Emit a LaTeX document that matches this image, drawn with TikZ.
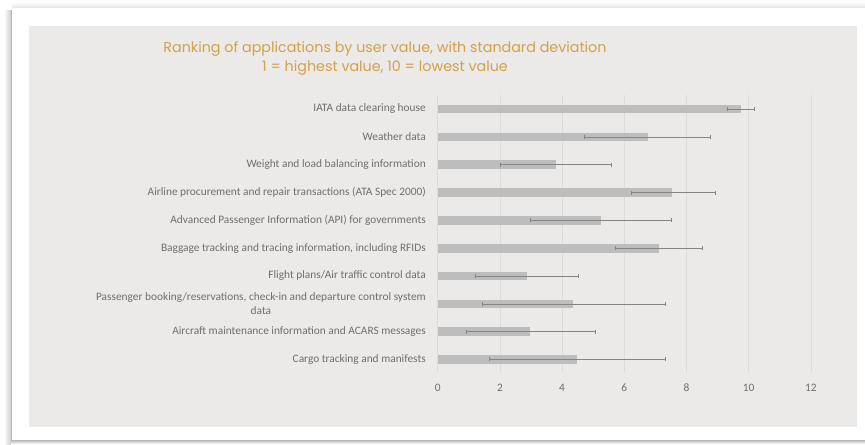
\documentclass[tikz,border=0pt]{standalone}
\usepackage{fontspec}
\usepackage{tikz}
\usetikzlibrary{positioning, arrows.meta}
\newfontfamily\titlefont{Poppins}
\newfontfamily\labelfont{Carlito}
\definecolor{panelgray}{HTML}{EBEAE8}
\definecolor{gridgray}{HTML}{DCDBD9}
\definecolor{bargray}{HTML}{BDBDBD}
\definecolor{errgray}{HTML}{858585}
\definecolor{labelgray}{HTML}{6E6E6E}
\definecolor{titlegold}{HTML}{D4A04A}
\tikzstyle{catlabel} = [anchor=east, text=labelgray, align=center, inner sep=0pt, font=\labelfont\fontsize{9.7}{11.8}\selectfont]
\tikzstyle{ticklabel} = [text=labelgray, inner sep=0pt, font=\labelfont\fontsize{9.7}{11}\selectfont]
\tikzstyle{titletext} = [text=titlegold, align=center, inner sep=0pt, font=\titlefont\fontsize{12.2}{15.5}\selectfont]
\tikzstyle{bar} = [fill=bargray, draw=none]
\tikzstyle{errbar} = [draw=errgray, line width=0.8pt, {Bar[width=1.2mm]}-{Bar[width=1.2mm]}]
\tikzstyle{grid} = [draw=gridgray, line width=0.6pt]

\begin{document}
\begin{tikzpicture}[x=0.03cm, y=-0.03cm]
	\useasboundingbox (0,0) rectangle (865,444);
	% frame and shadow
	\fill[white] (0,0) rectangle (865,444);
	\fill[left color=white, right color=black!20] (4,10) rectangle (11,444);
	\draw[black!28, line width=1.2pt] (11.5,10) -- (11.5,444);
	\fill[top color=white, bottom color=black!9] (12,2) rectangle (865,7);
	\fill[top color=black!25, bottom color=white] (11,440.5) rectangle (865,444);
	\fill[panelgray] (29,26) rectangle (857,427);
	% title
	\node (title) [titletext] at (385,58.5) {Ranking of applications by user value, with standard deviation\\1 = highest value, 10 = lowest value};
	% category labels
	\node (iata) [catlabel] at (426,109) {IATA data clearing house};
	\node (weather) [catlabel] at (426,137) {Weather data};
	\node (weight) [catlabel] at (426,164.7) {Weight and load balancing information};
	\node (airline) [catlabel] at (426,192.7) {Airline procurement and repair transactions (ATA Spec 2000)};
	\node (api) [catlabel] at (426,220.3) {Advanced Passenger Information (API) for governments};
	\node (baggage) [catlabel] at (426,248.3) {Baggage tracking and tracing information, including RFIDs};
	\node (flight) [catlabel] at (426,276) {Flight plans/Air traffic control data};
	\node (passenger) [catlabel] at (426,304) {Passenger booking/reservations, check-in and departure control system\\data};
	\node (aircraft) [catlabel] at (426,331.7) {Aircraft maintenance information and ACARS messages};
	\node (cargo) [catlabel] at (426,359.3) {Cargo tracking and manifests};
	% plot area, x in data units
	\begin{scope}[shift={(437.7,0)}, x=0.933cm]
		\foreach \v in {0,2,...,12} {
			\draw[grid] (\v,95) -- (\v,372);
			\node (tick\v) [ticklabel] at (\v,388) {\v};
		}
		\fill[bar] (0,104.7) rectangle (9.74,113.3);
		\fill[bar] (0,132.7) rectangle (6.75,141.3);
		\fill[bar] (0,160.4) rectangle (3.80,169.0);
		\fill[bar] (0,188.4) rectangle (7.54,197.0);
		\fill[bar] (0,216.0) rectangle (5.25,224.6);
		\fill[bar] (0,244.0) rectangle (7.13,252.6);
		\fill[bar] (0,271.7) rectangle (2.86,280.3);
		\fill[bar] (0,299.7) rectangle (4.35,308.3);
		\fill[bar] (0,327.4) rectangle (2.98,336.0);
		\fill[bar] (0,355.0) rectangle (4.49,363.6);
		\draw[errbar] (9.29,109) -- (10.20,109);
		\draw[errbar] (4.71,137) -- (8.78,137);
		\draw[errbar] (2.00,164.7) -- (5.61,164.7);
		\draw[errbar] (6.20,192.7) -- (8.94,192.7);
		\draw[errbar] (2.97,220.3) -- (7.52,220.3);
		\draw[errbar] (5.71,248.3) -- (8.53,248.3);
		\draw[errbar] (1.20,276) -- (4.54,276);
		\draw[errbar] (1.41,304) -- (7.33,304);
		\draw[errbar] (0.91,331.7) -- (5.08,331.7);
		\draw[errbar] (1.66,359.3) -- (7.34,359.3);
	\end{scope}
\end{tikzpicture}
\end{document}
